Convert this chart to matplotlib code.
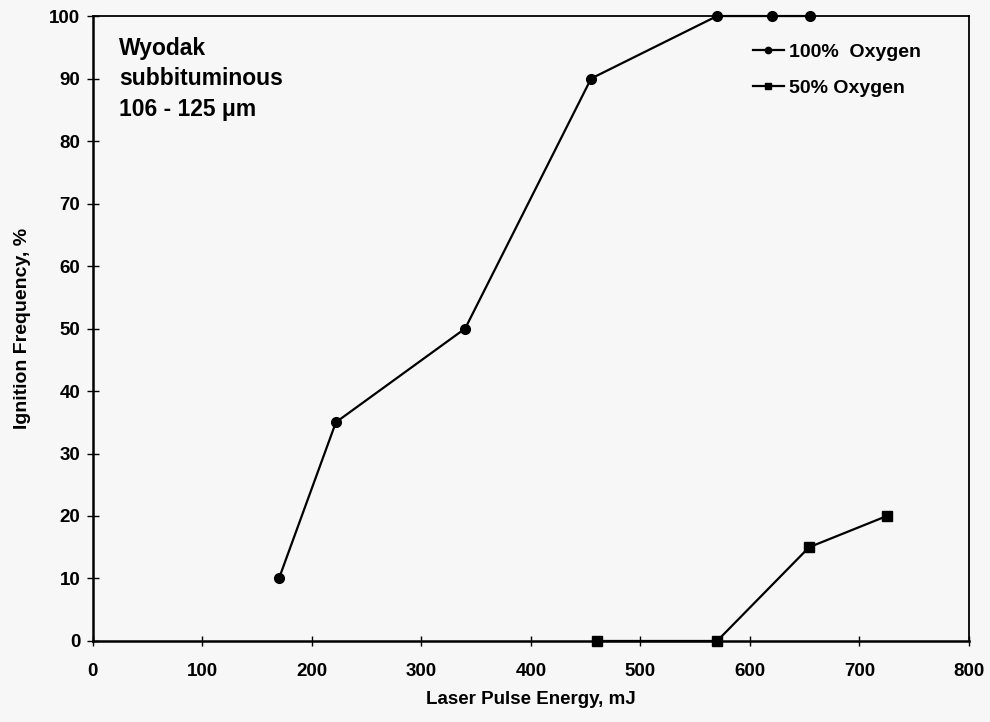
import numpy as np
import matplotlib.pyplot as plt

# ignition data
energy_100 = [170, 222, 340, 455, 570, 620, 655]
freq_100 = [10, 35, 50, 90, 100, 100, 100]
energy_50 = [460, 570, 654, 725]
freq_50 = [0, 0, 15, 20]

xticks = [0, 100, 200, 300, 400, 500, 600, 700, 800]
yticks = [0, 10, 20, 30, 40, 50, 60, 70, 80, 90, 100]

bg = '#f7f7f7'
fig = plt.figure(figsize=(9.9, 7.22), dpi=100, facecolor=bg)
ax = fig.add_axes([0.0937, 0.1122, 0.8851, 0.8656])
ax.set_facecolor(bg)

ax.plot(energy_100, freq_100, color='black', lw=1.6, marker='o', ms=7,
        label='100%  Oxygen', clip_on=False, zorder=3)
ax.plot(energy_50, freq_50, color='black', lw=1.6, marker='s', ms=6.5,
        label='50% Oxygen', clip_on=False, zorder=3)

ax.set_xlim(0, 800)
ax.set_ylim(0, 100)
ax.set_xticks(xticks)
ax.set_yticks(yticks)

arial = ['Liberation Sans', 'DejaVu Sans']

ax.set_xticklabels([str(v) for v in xticks], family=arial, weight='bold', fontsize=13.5)
ax.set_yticklabels([str(v) for v in yticks], family=arial, weight='bold', fontsize=13.5)
ax.tick_params(axis='x', direction='inout', length=7, width=1, pad=12.5)
ax.tick_params(axis='y', direction='inout', length=8, width=1, pad=5)

ax.set_xlabel('Laser Pulse Energy, mJ', family=arial, weight='bold', fontsize=13.5, labelpad=8)
ax.set_ylabel('Ignition Frequency, %', family=arial, weight='bold', fontsize=14, labelpad=13)

for side in ['left', 'bottom']:
    ax.spines[side].set_linewidth(1.8)
for side in ['top', 'right']:
    ax.spines[side].set_linewidth(1.3)

ax.text(0.030, 0.967, 'Wyodak\nsubbituminous\n106 - 125 \u03bcm', transform=ax.transAxes,
        family=arial, weight='bold', fontsize=16.5, va='top', ha='left', linespacing=1.42)

leg = ax.legend(loc='upper left', bbox_to_anchor=(0.733, 0.985), frameon=False,
                prop={'family': arial, 'weight': 'bold', 'size': 14},
                handlelength=1.6, handletextpad=0.25, labelspacing=0.95, markerscale=0.65)

fig.savefig('out.png', dpi=100, facecolor=bg)
